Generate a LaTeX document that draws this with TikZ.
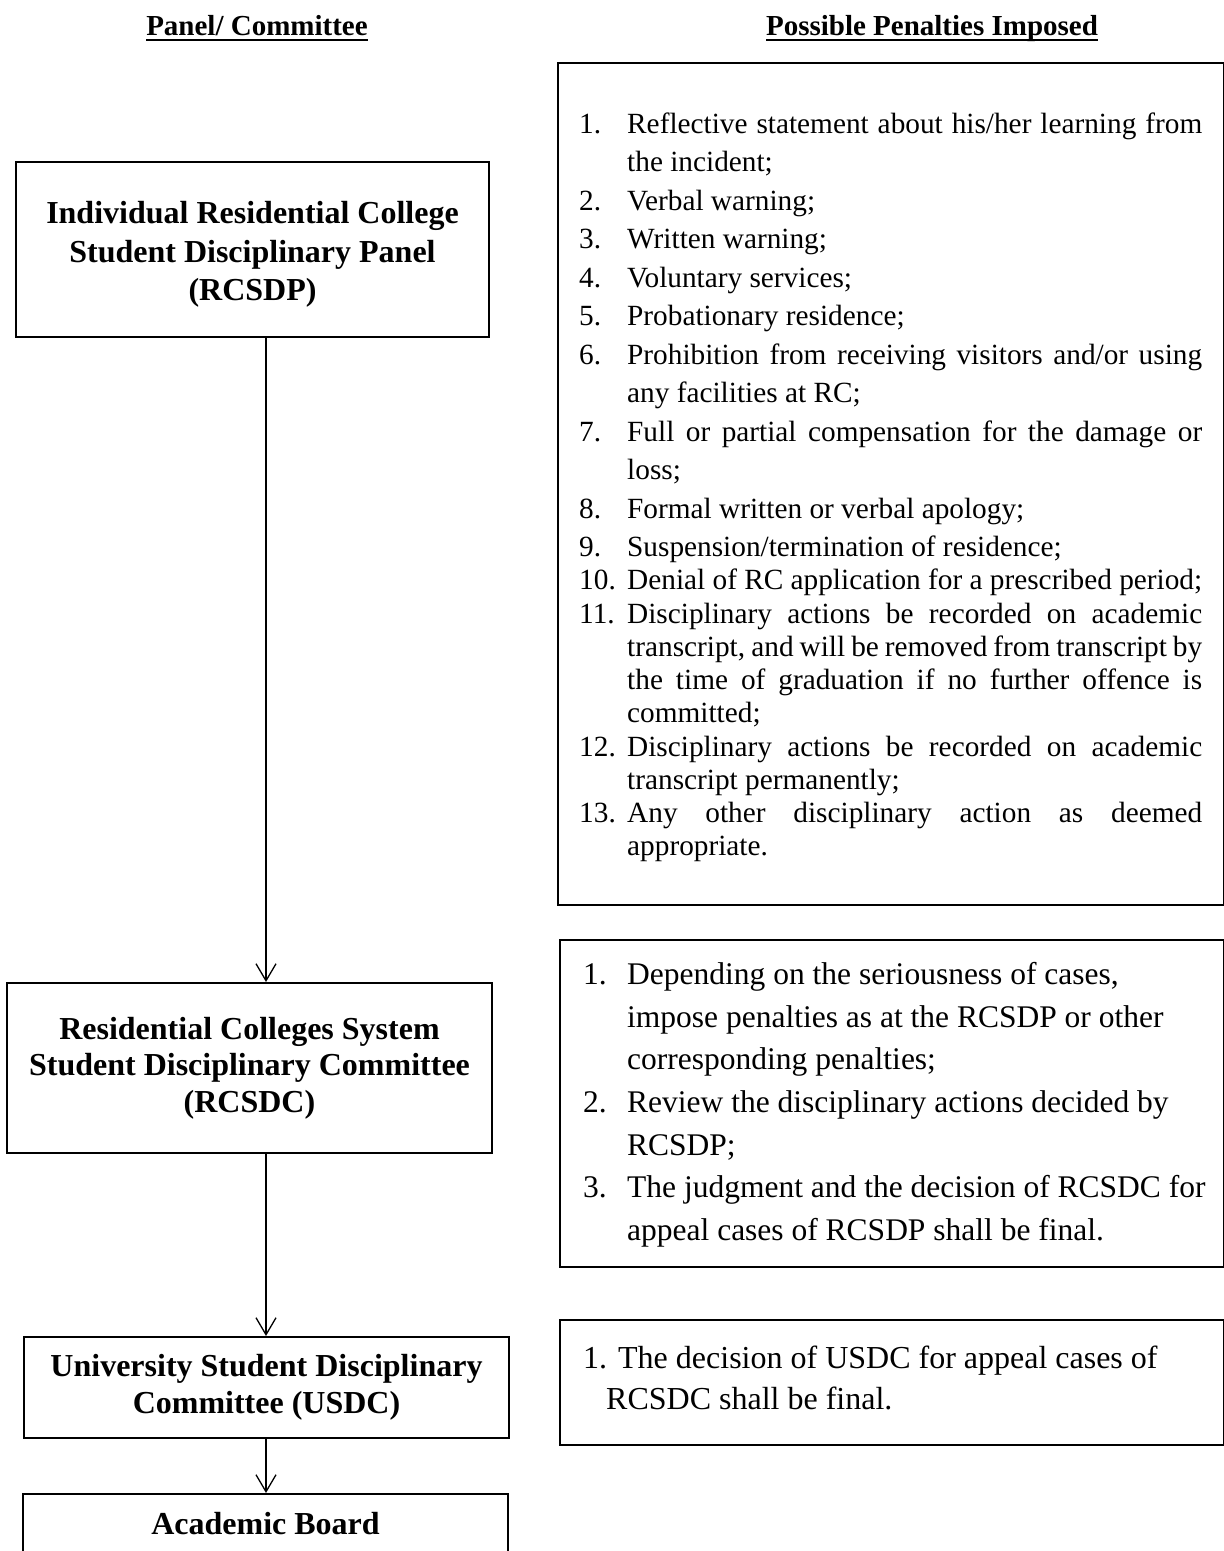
\documentclass[tikz,border=0pt]{standalone}
\usepackage{fontspec}
\setmainfont{Liberation Serif}
\usetikzlibrary{arrows.meta}
\newcommand\itm[2][48pt]{\par\hangindent=#1\hangafter=1\noindent\makebox[#1][l]{#2}}
\newcommand\hdul[1]{\setbox0\hbox{#1}\rlap{\rule[-6pt]{\wd0}{1.6pt}}\box0}
\begin{document}
\begin{tikzpicture}[x=1pt,y=-1pt,
  box/.style={draw, line width=2pt, inner sep=0pt, anchor=north west, align=center,
    font=\bfseries\fontsize{32}{37}\selectfont},
  btext/.style={inner sep=0pt, align=center, font=\bfseries\fontsize{32}{38.5}\selectfont},
  rbox/.style={draw, line width=2pt, inner sep=0pt, anchor=north west},
  flow/.style={line width=1.3pt, -{Straight Barb[length=17pt,width=20pt]}},
  head/.style={anchor=base, inner sep=0pt, font=\bfseries\fontsize{29}{34}\selectfont},
  list/.style={anchor=base west, inner sep=0pt}]
\useasboundingbox (0,0) rectangle (1224,1551);
\fill[white] (0,0) rectangle (1224,1551);
\clip (0,0) rectangle (1224,1551);

% headers
\node[head] (h1) at (257,35) {\hdul{Panel/ Committee}};
\node[head] (h2) at (932,35) {\hdul{Possible Penalties Imposed}};

% left column
\node[box, minimum width=473pt, minimum height=175pt] (rcsdp) at (15,161) {};
\node[btext] (rcsdpt) at ([yshift=-5pt]rcsdp.center)
  {Individual Residential College\\Student Disciplinary Panel\\(RCSDP)};
\node[box, minimum width=485pt, minimum height=170pt,
  font=\bfseries\fontsize{32}{36.5}\selectfont] (rcsdc) at (6,982)
  {Residential Colleges System\\Student Disciplinary Committee\\(RCSDC)};
\node[box, minimum width=485pt, minimum height=101pt,
  font=\bfseries\fontsize{32}{36.5}\selectfont] (usdc) at (23,1336)
  {University Student Disciplinary\\Committee (USDC)};
\node[box, minimum width=485pt, minimum height=60pt] (ab) at (22,1493)
  {Academic Board};

\coordinate (ax) at (266,0);
\draw[flow] (rcsdp.south -| ax) -- (rcsdc.north -| ax);
\draw[flow] (rcsdc.south -| ax) -- (usdc.north -| ax);
\draw[flow] (usdc.south -| ax) -- (ab.north -| ax);

% right column boxes
\node[rbox, minimum width=666pt, minimum height=842pt] (pen1) at (557,62) {};
\node[rbox, minimum width=664pt, minimum height=327pt] (pen2) at (559,939) {};
\node[rbox, minimum width=664pt, minimum height=125pt] (pen3) at (559,1319) {};

% list 1
\node[list] (l1) at (579,133) {\parbox[t]{623pt}{\fontsize{29.3}{38.5}\selectfont
  \hyphenpenalty=10000 \exhyphenpenalty=10000 \tolerance=10000 \hbadness=10000
  \itm{1.}Reflective statement about his/her learning from\linebreak the incident;
  \itm{2.}Verbal warning;
  \itm{3.}Written warning;
  \itm{4.}Voluntary services;
  \itm{5.}Probationary residence;
  \itm{6.}Prohibition from receiving visitors and/or using\linebreak any facilities at RC;
  \itm{7.}Full or partial compensation for the damage or\linebreak loss;
  \itm{8.}Formal written or verbal apology;
  \itm{9.}Suspension/termination of residence;
  \par\fontsize{29.3}{33.25}\selectfont
  \itm{10.}Denial of RC application for a prescribed period;
  \itm{11.}Disciplinary actions be recorded on academic\linebreak transcript, and will be removed from transcript by\linebreak the time of graduation if no further offence is\linebreak committed;
  \itm{12.}Disciplinary actions be recorded on academic\linebreak transcript permanently;
  \itm{13.}Any other disciplinary action as deemed\linebreak appropriate.\par}};

% list 2
\node[list] (l2) at (583,984.6) {\parbox[t]{640pt}{\fontsize{31.5}{42.6}\selectfont\raggedright
  \itm[44pt]{1.}Depending on the seriousness of cases,\newline impose penalties as at the RCSDP or other\newline corresponding penalties;
  \itm[44pt]{2.}Review the disciplinary actions decided by\newline RCSDP;
  \itm[44pt]{3.}The judgment and the decision of RCSDC for\newline appeal cases of RCSDP shall be final.\par}};

% list 3
\node[list] (l3) at (583,1368) {\parbox[t]{640pt}{\fontsize{32}{41}\selectfont\raggedright
  \hangindent=23pt\hangafter=1\noindent 1.\hspace{11pt}The decision of USDC for appeal cases of\newline RCSDC shall be final.\par}};
\end{tikzpicture}
\end{document}
